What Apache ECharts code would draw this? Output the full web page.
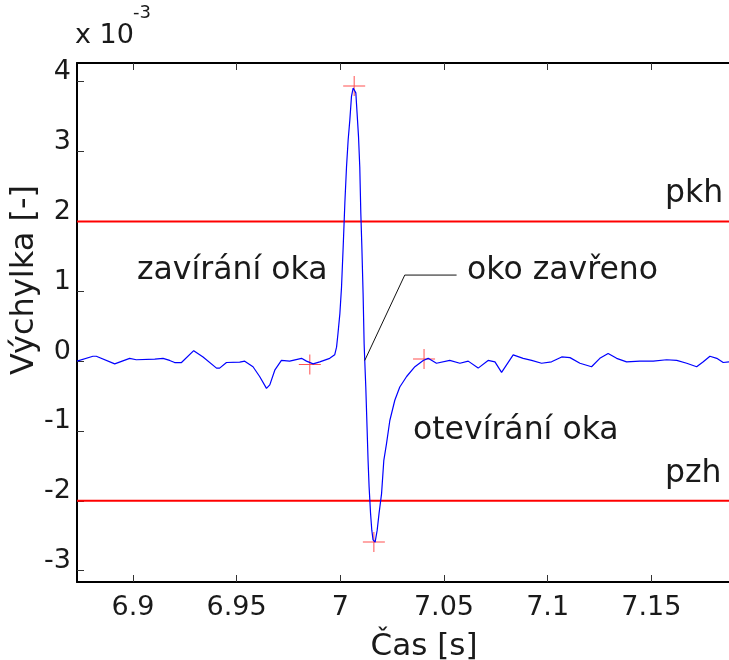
<!DOCTYPE html>
<html>
<head>
  <meta charset="UTF-8" />
  <title>Výchylka - mrknutí</title>
  <script src="https://cdn.jsdelivr.net/npm/echarts@6/dist/echarts.min.js"></script>
  <style>
    html, body { margin: 0; height: 100%; background: #fff; }
    #main { width: 729px; height: 660px; }
  </style>
</head>
<body>
  <div id="main"></div>
  <script>
    const FONT = 'DejaVu Sans';

    // čas [s]
    const timeS = [
      6.8730, 6.8807, 6.8823, 6.8912, 6.8984, 6.9016, 6.9105, 6.9145, 6.9177, 6.9201,
      6.9234, 6.9293, 6.9338, 6.9403, 6.9418, 6.9451, 6.9515, 6.9539, 6.9579, 6.9611,
      6.9644, 6.9660, 6.9684, 6.9716, 6.9756, 6.9813, 6.9837, 6.9869, 6.9901, 6.9949,
      6.9973, 6.9982, 6.9989, 6.9998, 7.0006, 7.0014, 7.0022, 7.0030, 7.0038, 7.0046,
      7.0054, 7.0062, 7.0070, 7.0075, 7.0081, 7.0088, 7.0094, 7.0099, 7.0104, 7.0110,
      7.0115, 7.0118, 7.0123, 7.0129, 7.0134, 7.0139, 7.0146, 7.0152, 7.0158, 7.0168,
      7.0178, 7.0187, 7.0199, 7.0210, 7.0223, 7.0239, 7.0263, 7.0287, 7.0320, 7.0360,
      7.0400, 7.0424, 7.0464, 7.0528, 7.0577, 7.0617, 7.0665, 7.0713, 7.0746, 7.0778,
      7.0834, 7.0882, 7.0923, 7.0971, 7.1019, 7.1068, 7.1108, 7.1156, 7.1212, 7.1252,
      7.1292, 7.1333, 7.1381, 7.1445, 7.1510, 7.1574, 7.1623, 7.1671, 7.1719, 7.1751,
      7.1783, 7.1816, 7.1847, 7.1875
    ];
    // výchylka [x 10^-3]
    const deflection = [
      0.00, 0.07, 0.07, -0.04, 0.04, 0.02, 0.03, 0.04, 0.01, -0.02,
      -0.02, 0.15, 0.06, -0.10, -0.10, -0.02, -0.015, 0.00, -0.08, -0.22,
      -0.39, -0.34, -0.13, 0.01, 0.00, 0.04, 0.00, -0.04, -0.01, 0.04,
      0.09, 0.20, 0.40, 0.68, 1.06, 1.64, 2.26, 2.78, 3.17, 3.45,
      3.79, 3.91, 3.93, 3.84, 3.55, 3.21, 2.78, 2.12, 1.64, 0.97,
      0.25, 0.01, -0.37, -0.94, -1.42, -1.80, -2.18, -2.42, -2.56, -2.59,
      -2.42, -2.18, -1.90, -1.42, -1.18, -0.85, -0.56, -0.37, -0.22, -0.08,
      0.01, 0.04, -0.03, 0.01, -0.03, 0.00, -0.10, 0.01, -0.01, -0.16,
      0.09, 0.04, 0.01, -0.03, -0.01, 0.06, 0.05, -0.03, -0.08, 0.04,
      0.11, 0.04, -0.01, 0.00, 0.00, 0.02, 0.01, -0.03, -0.08, -0.01,
      0.07, 0.04, -0.02, -0.01
    ];

    // význačné body (+)
    const markTime = [6.9853, 7.0067, 7.0162, 7.0404];
    const markValue = [-0.05, 3.94, -2.59, 0.03];

    // prahy pkh / pzh
    const thresholdPkh = 2;
    const thresholdPzh = -2;

    // odkazová čára k popisku "oko zavřeno"
    const pointerTime = [7.0561, 7.0311, 7.0118];
    const pointerValue = [1.232, 1.232, 0.01];

    const xTicks = [6.9, 6.95, 7, 7.05, 7.1, 7.15];
    const yTicks = [-3, -2, -1, 0, 1, 2, 3, 4];
    const xMin = 6.873, xMax = 7.1875;
    const yMin = -3.162, yMax = 4.268;

    const chart = echarts.init(document.getElementById('main'));

    function label(text, x, y, size, opts) {
      return Object.assign({
        type: 'text', x: x, y: y,
        style: {
          text: text, fontFamily: FONT, fontSize: size, fill: '#1a1a1a',
          align: 'left', verticalAlign: 'middle'
        }
      }, opts || {});
    }

    const yName = label('Výchylka [-]', 25, 280, 32, { rotation: Math.PI / 2 });
    yName.style.align = 'center';
    const xName = label('Čas [s]', 424, 647, 31);
    xName.style.align = 'center';

    chart.setOption({
      animation: false,
      backgroundColor: '#fff',
      grid: { left: 77, right: 0, top: 63, bottom: 78 },
      xAxis: [
        {
          type: 'value', min: xMin, max: xMax, position: 'bottom',
          axisLine: { onZero: false, lineStyle: { color: '#000', width: 2 } },
          axisTick: { inside: true, length: 7, customValues: xTicks, lineStyle: { color: '#333', width: 1 } },
          axisLabel: {
            customValues: xTicks, margin: 12, color: '#1a1a1a', fontFamily: FONT, fontSize: 27,
            formatter: v => String(+v.toFixed(2))
          },
          splitLine: { show: false }
        },
        {
          type: 'value', min: xMin, max: xMax, position: 'top',
          axisLine: { onZero: false, lineStyle: { color: '#000', width: 2 } },
          axisTick: { inside: true, length: 7, customValues: xTicks, lineStyle: { color: '#333', width: 1 } },
          axisLabel: { show: false },
          splitLine: { show: false }
        }
      ],
      yAxis: {
        type: 'value', min: yMin, max: yMax,
        axisLine: { show: true, onZero: false, lineStyle: { color: '#000', width: 2 } },
        axisTick: { show: true, inside: true, length: 7, customValues: yTicks, lineStyle: { color: '#333', width: 1 } },
        axisLabel: {
          customValues: yTicks, margin: 6, color: '#1a1a1a', fontFamily: FONT, fontSize: 27,
          verticalAlign: 'bottom', lineHeight: 27, padding: [0, 0, -4, 0],
          formatter: v => String(Math.round(v))
        },
        splitLine: { show: false }
      },
      series: [
        {
          type: 'line', name: 'pkh', symbol: 'none', silent: true,
          data: [[xMin, thresholdPkh], [xMax, thresholdPkh]],
          lineStyle: { color: '#ff0000', width: 2 }
        },
        {
          type: 'line', name: 'pzh', symbol: 'none', silent: true,
          data: [[xMin, thresholdPzh], [xMax, thresholdPzh]],
          lineStyle: { color: '#ff0000', width: 2 }
        },
        {
          type: 'line', name: 'výchylka', symbol: 'none',
          data: timeS.map((t, i) => [t, deflection[i]]),
          lineStyle: { color: '#0000ff', width: 1.2 }
        },
        {
          type: 'line', name: 'odkaz', symbol: 'none', silent: true,
          data: pointerTime.map((t, i) => [t, pointerValue[i]]),
          lineStyle: { color: '#111', width: 1 }
        },
        {
          type: 'scatter', name: 'body',
          symbol: 'path://M0,9.5H22V10.5H0ZM10.5,0H11.5V20H10.5Z',
          symbolSize: [22, 20],
          itemStyle: { color: '#ff3333', opacity: 0.85 },
          data: markTime.map((t, i) => [t, markValue[i]])
        }
      ],
      graphic: [
        label('x 10', 75, 36, 27),
        label('-3', 133, 13, 18),
        yName,
        xName,
        label('zavírání oka', 137, 271, 31.5),
        label('oko zavřeno', 467, 271, 31.5),
        label('otevírání oka', 413, 431, 31.5),
        label('pkh', 665, 194, 31.5),
        label('pzh', 665, 474, 31.5)
      ]
    });
  </script>
</body>
</html>
